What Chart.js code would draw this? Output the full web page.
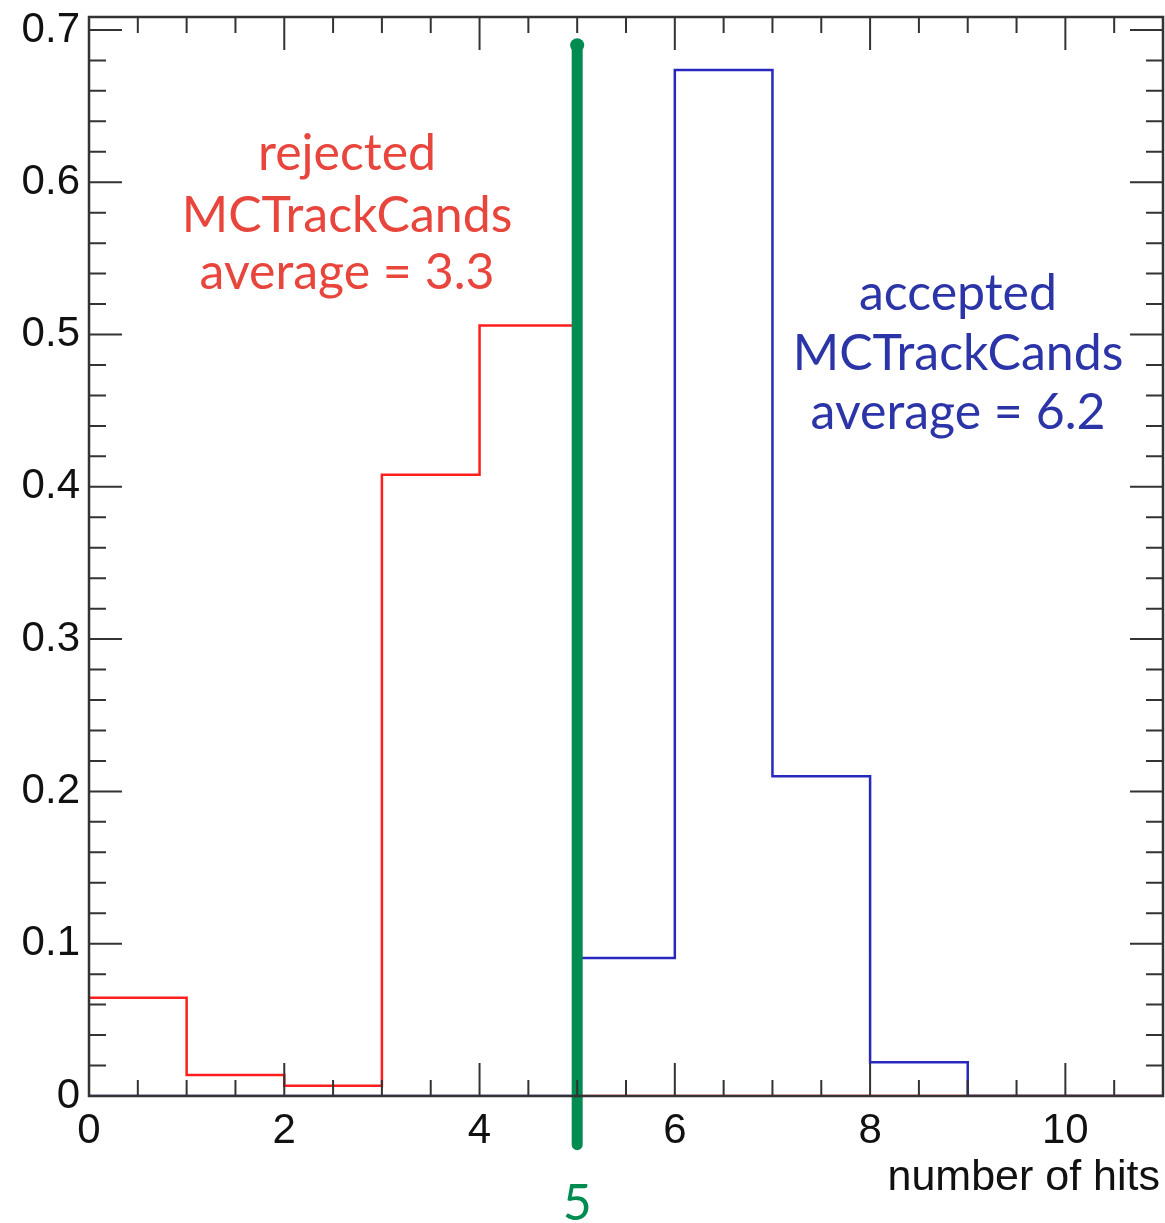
<!DOCTYPE html>
<html>
<head>
    <title>number of hits</title>
    <script src="https://cdn.jsdelivr.net/npm/chart.js"></script>
    <style>
        html, body { margin: 0; padding: 0; background: #fff; }
        #wrap { width: 1165px; height: 1223px; position: relative; }
    </style>
</head>
<body>
    <div id="wrap">
        <canvas id="hitsChart"></canvas>
    </div>

    <script>
        // bin edges 0..11, one value per bin (normalised)
        const binEdges = [0, 1, 2, 3, 4, 5, 6, 7, 8, 9, 10, 11];
        const rejected = [0.0645, 0.0138, 0.0068, 0.408, 0.506, 0, 0, 0, 0, 0, 0];
        const accepted = [0, 0, 0, 0, 0, 0.0906, 0.6737, 0.210, 0.0221, 0, 0];
        const cutLine = [{x: 5, y: 0.69}, {x: 5, y: -0.032}];
        const xTicks = [0, 2, 4, 6, 8, 10];
        const yTicks = [0, 0.1, 0.2, 0.3, 0.4, 0.5, 0.6, 0.7];

        function histPoints(vals) {
            const pts = vals.map((v, i) => ({x: binEdges[i], y: v}));
            pts.push({x: binEdges[binEdges.length - 1], y: vals[vals.length - 1]});
            return pts;
        }

        const labelFont = '"Lato", "Open Sans", sans-serif';
        const axisFont = '"Liberation Sans", Arial, sans-serif';

        // no extra room for the tick labels, plot area is set by layout padding
        function noPad(s) {
            s.paddingLeft = 0; s.paddingRight = 0;
            s.paddingTop = 0; s.paddingBottom = 0;
        }

        // ROOT style frame with inside ticks + text notes
        const framePlugin = {
            id: 'frame',
            afterDatasetsDraw(chart) {
                const ctx = chart.ctx;
                const a = chart.chartArea;
                const xs = chart.scales.x, ys = chart.scales.y;
                ctx.save();
                ctx.strokeStyle = '#333';
                ctx.lineWidth = 2.5;
                ctx.strokeRect(a.left, a.top, a.right - a.left, a.bottom - a.top);
                ctx.lineWidth = 2;
                ctx.beginPath();
                // x ticks every 0.5, major every 2
                for (let v = 0; v <= 11.001; v += 0.5) {
                    const px = xs.getPixelForValue(v);
                    const len = (Math.abs(v % 2) < 1e-6) ? 33 : 16;
                    ctx.moveTo(px, a.bottom); ctx.lineTo(px, a.bottom - len);
                    ctx.moveTo(px, a.top); ctx.lineTo(px, a.top + len);
                }
                // y ticks every 0.02, major every 0.1
                for (let i = 0; i <= 35; i++) {
                    const v = i * 0.02;
                    const py = ys.getPixelForValue(v);
                    const len = (i % 5 === 0) ? 33 : 17;
                    ctx.moveTo(a.left, py); ctx.lineTo(a.left + len, py);
                    ctx.moveTo(a.right, py); ctx.lineTo(a.right - len, py);
                }
                ctx.stroke();

                ctx.textAlign = 'center';
                ctx.textBaseline = 'alphabetic';
                ctx.font = '50px ' + labelFont;
                ctx.fillStyle = '#E8453C';
                ctx.fillText('rejected', 347, 170);
                ctx.fillText('MCTrackCands', 347, 232);
                ctx.fillText('average = 3.3', 347, 289);
                ctx.fillStyle = '#2B35A8';
                ctx.fillText('accepted', 958, 310);
                ctx.fillText('MCTrackCands', 958, 370);
                ctx.fillText('average = 6.2', 958, 429);

                ctx.fillStyle = '#008C50';
                ctx.fillText('5', xs.getPixelForValue(5), 1220);

                ctx.fillStyle = '#111';
                ctx.textAlign = 'right';
                ctx.font = '43px ' + axisFont;
                ctx.fillText('number of hits', 1160, 1190);
                ctx.restore();
            }
        };

        new Chart(document.getElementById('hitsChart'), {
            type: 'line',
            data: {
                datasets: [{
                    label: 'cut',
                    data: cutLine,
                    borderColor: '#008C50',
                    backgroundColor: '#008C50',
                    borderWidth: 11,
                    borderCapStyle: 'round',
                    pointRadius: 7,
                    pointBorderWidth: 0,
                    clip: false
                }, {
                    label: 'accepted',
                    data: histPoints(accepted),
                    borderColor: 'rgb(40, 40, 190)',
                    borderWidth: 2.5,
                    stepped: true,
                    pointRadius: 0
                }, {
                    label: 'rejected',
                    data: histPoints(rejected),
                    borderColor: 'rgb(255, 30, 30)',
                    borderWidth: 2.5,
                    stepped: true,
                    pointRadius: 0
                }]
            },
            options: {
                responsive: true,
                maintainAspectRatio: false,
                animation: false,
                layout: {
                    autoPadding: false,
                    padding: { top: 17, right: 2, left: 0, bottom: 0 }
                },
                plugins: {
                    legend: { display: false },
                    tooltip: { enabled: false }
                },
                scales: {
                    x: {
                        type: 'linear',
                        min: 0,
                        max: 11,
                        afterFit(s) { s.height = 127; noPad(s); },
                        afterBuildTicks(s) { s.ticks = xTicks.map(v => ({value: v})); },
                        grid: { display: false, drawTicks: false },
                        border: { display: false },
                        ticks: {
                            padding: 10,
                            color: '#111',
                            font: { family: axisFont, size: 42 },
                            maxRotation: 0,
                            autoSkip: false
                        }
                    },
                    y: {
                        min: 0,
                        max: 0.7085,
                        afterFit(s) { s.width = 89; noPad(s); },
                        afterBuildTicks(s) { s.ticks = yTicks.map(v => ({value: v})); },
                        grid: { display: false, drawTicks: false },
                        border: { display: false },
                        ticks: {
                            padding: 9,
                            color: '#111',
                            font: { family: axisFont, size: 42 },
                            callback: v => v === 0 ? '0' : v.toFixed(1)
                        }
                    }
                }
            },
            plugins: [framePlugin]
        });
    </script>
</body>
</html>
